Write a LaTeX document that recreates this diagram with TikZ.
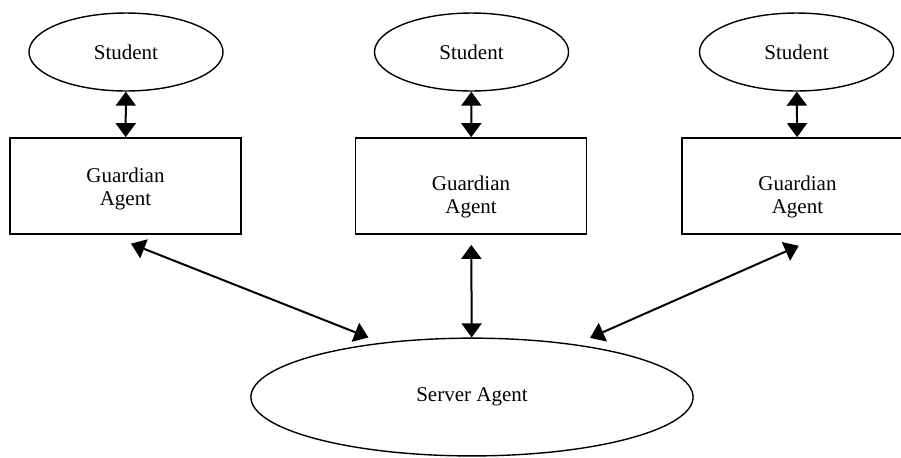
\documentclass[tikz,border=0pt]{standalone}
\usepackage{fontspec}
\setmainfont{Liberation Serif}
\usetikzlibrary{shapes.geometric,arrows.meta}

\begin{document}
\begin{tikzpicture}[
    font=\fontsize{10.5}{11.5}\selectfont,
    student/.style={draw, line width=0.7pt, ellipse, inner sep=0pt,
        minimum width=3.41cm, minimum height=1.37cm},
    agent/.style={draw, line width=0.75pt, rectangle, inner sep=0pt,
        minimum width=4.06cm, minimum height=1.69cm},
    caption/.style={align=center, inner sep=0pt},
    link/.style={line width=1pt, {Triangle[length=7pt,width=10pt]}-{Triangle[length=7pt,width=10pt]}}
]
\useasboundingbox (0,0) rectangle (15.833,8.031);

% students on top
\node[student] (stuA) at (2.214,7.117) {Student};
\node[student] (stuB) at (8.286,7.117) {Student};
\node[student] (stuC) at (13.997,7.117) {Student};

% guardian agents
\node[agent] (gdnA) at (2.205,4.762) {};
\node[agent] (gdnB) at (8.277,4.762) {};
\node[agent] (gdnC) at (14.014,4.762) {};
\node[caption] (gdnAtxt) at ([yshift=-0.05cm]gdnA.center) {Guardian\\Agent};
\node[caption] (gdnBtxt) at ([yshift=-0.19cm]gdnB.center) {Guardian\\Agent};
\node[caption] (gdnCtxt) at ([yshift=-0.19cm]gdnC.center) {Guardian\\Agent};

% server
\node[student, minimum width=7.77cm, minimum height=2.07cm] (server) at (8.294,1.054) {Server Agent};

\draw[link] (stuA) -- (gdnA);
\draw[link] (stuB) -- (gdnB);
\draw[link] (stuC) -- (gdnC);

\draw[link, shorten <=12pt, shorten >=7pt] (gdnA.251) -- (server.149);
\draw[link, shorten <=5pt] (gdnB) -- (server);
\draw[link, shorten <=13.5pt, shorten >=8pt] (gdnC.298) -- (server.27);
\end{tikzpicture}
\end{document}
